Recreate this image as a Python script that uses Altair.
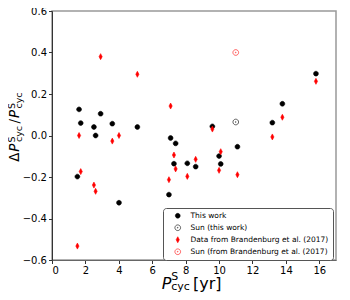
import altair as alt
import pandas as pd

# ---- data ----
period = [1.52, 1.62, 1.72, 2.51, 2.61, 2.91, 3.61, 4.01, 5.11, 7.0, 7.1, 7.3,
          7.4, 8.1, 8.6, 9.6, 10.0, 10.1, 11.1, 13.19, 13.79, 15.8]
dp_this_work = [-0.198, 0.126, 0.06, 0.041, 0.0, 0.105, 0.057, -0.324, 0.041,
                -0.285, -0.012, -0.136, -0.038, -0.134, -0.15, 0.044, -0.099,
                -0.137, -0.054, 0.062, 0.153, 0.298]
dp_brandenburg = [-0.533, 0.0, -0.174, -0.239, -0.269, 0.38, -0.027, 0.0, 0.295,
                  -0.213, 0.142, -0.094, -0.161, -0.197, -0.115, 0.031, -0.168,
                  -0.078, -0.189, -0.007, 0.088, 0.261]
sun_period = [11.0]
sun_this_work = [0.065]
sun_brandenburg = [0.40]

series = ["This work", "Sun (this work)",
          "Data from Brandenburg et al. (2017)",
          "Sun (from Brandenburg et al. (2017)"]
x_ticks = [0, 2, 4, 6, 8, 10, 12, 14, 16]
y_ticks = [-0.6, -0.4, -0.2, 0.0, 0.2, 0.4, 0.6]

rows = []
for p, v in zip(period, dp_this_work):
    rows.append({"P": p, "dP": v, "series": series[0]})
for p, v in zip(sun_period, sun_this_work):
    rows.append({"P": p, "dP": v, "series": series[1]})
for p, v in zip(period, dp_brandenburg):
    rows.append({"P": p, "dP": v, "series": series[2]})
for p, v in zip(sun_period, sun_brandenburg):
    rows.append({"P": p, "dP": v, "series": series[3]})
df = pd.DataFrame(rows)

dot = "M0.76,0A0.76,0.76,0,1,1,-0.76,0A0.76,0.76,0,1,1,0.76,0Z"
sun = ("M0.9,0A0.9,0.9,0,1,1,-0.9,0A0.9,0.9,0,1,1,0.9,0Z"
       "M0.12,0A0.12,0.12,0,1,1,-0.12,0A0.12,0.12,0,1,1,0.12,0Z")
thin_diamond = "M0,-0.95L0.5,0L0,0.95L-0.5,0Z"

legend = alt.Legend(orient="none", legendX=111, legendY=197, title=None,
                    direction="vertical", fillColor="white", strokeColor="#555",
                    cornerRadius=3, padding=4, labelFontSize=7.5,
                    labelFont="DejaVu Sans", labelColor="black", rowPadding=3,
                    symbolSize=40, symbolStrokeWidth=0.6, symbolOffset=7,
                    labelOffset=9, labelLimit=0)

points = alt.Chart(df).mark_point(opacity=1, size=40, strokeWidth=0.6).encode(
    x=alt.X("P:Q", scale=alt.Scale(domain=[0, 17], nice=False),
            axis=alt.Axis(values=x_ticks, title=None, grid=False, format="d",
                          domainColor="#666", domainWidth=1.2)),
    y=alt.Y("dP:Q", scale=alt.Scale(domain=[-0.6, 0.6], nice=False),
            axis=alt.Axis(values=y_ticks, title=None, grid=False,
                          labelExpr="replace(format(datum.value,'.1f'),'-','\u2212')",
                          domainColor="#333")),
    shape=alt.Shape("series:N", scale=alt.Scale(domain=series,
                    range=[dot, sun, thin_diamond, sun]), legend=legend),
    fill=alt.Fill("series:N", scale=alt.Scale(domain=series,
                  range=["black", "transparent", "red", "transparent"]), legend=legend),
    stroke=alt.Stroke("series:N", scale=alt.Scale(domain=series,
                      range=["black", "black", "red", "red"]), legend=legend),
)

# axis title pieces (text, x, y, size, italic, angle)
title_pieces = [
    ("P", 109.7, 278, 16, True, 0),
    ("S", 119.3, 269, 11, False, 0),
    ("cyc", 119.3, 278.5, 11, False, 0),
    ("[yr]", 141, 278, 16, False, 0),
    ("\u0394", -33.0, 150.7, 13.5, False, 270),
    ("P", -33.0, 140.8, 13.5, True, 270),
    ("S", -37.3, 131.5, 9.5, False, 270),
    ("cyc", -30.3, 131.0, 9.5, False, 270),
    ("/", -33.0, 112.5, 13.5, False, 270),
    ("P", -33.0, 107.0, 13.5, True, 270),
    ("S", -37.3, 98.0, 9.5, False, 270),
    ("cyc", -30.3, 97.5, 9.5, False, 270),
]
layers = [points]
for txt, px, py, fs, it, ang in title_pieces:
    layers.append(
        alt.Chart(alt.Data(values=[{}])).mark_text(
            text=txt, fontSize=fs, font="DejaVu Sans",
            fontStyle="italic" if it else "normal", angle=ang,
            align="left", baseline="alphabetic", color="black"
        ).encode(x=alt.value(px), y=alt.value(py))
    )

chart = alt.layer(*layers).properties(
    width=284, height=249,
    padding={"left": 44, "top": 3, "right": 6, "bottom": 32},
    autosize=alt.AutoSizeParams(type="none"),
).configure(font="DejaVu Sans").configure_view(
    stroke="#999", strokeWidth=1.5
).configure_axis(
    labelFontSize=10, labelFont="DejaVu Sans", labelColor="black",
    tickSize=3.5, tickColor="#333", labelPadding=2
)

chart.save("out.html", embed_options={"renderer": "svg", "actions": False})
